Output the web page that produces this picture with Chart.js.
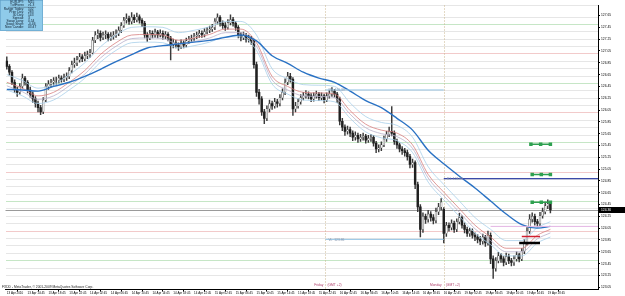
<!DOCTYPE html>
<html>
<head>
<meta charset="utf-8">
<script src="https://cdn.jsdelivr.net/npm/chart.js@4.4.1/dist/chart.umd.min.js"></script>
<style>html,body{margin:0;padding:0;background:#fff}canvas{display:block}</style>
</head>
<body>
<canvas id="c" width="625" height="296"></canvas>
<script>
// EURJPY candles, one entry per bar (bar index = position on the time axis)
var opens = [126.88,126.79,126.69,126.52,126.40,126.35,126.45,126.59,126.52,126.39,
126.32,126.24,126.16,126.09,126.02,126.22,126.45,126.49,126.52,126.55,
126.55,126.59,126.57,126.60,126.62,126.72,126.82,126.85,126.90,126.95,
126.92,126.97,126.99,127.02,127.23,127.32,127.35,127.28,127.32,127.33,
127.27,127.30,127.32,127.35,127.40,127.48,127.57,127.60,127.55,127.62,
127.58,127.63,127.57,127.52,127.32,127.27,127.35,127.32,127.37,127.32,
127.35,127.30,127.33,127.27,127.15,127.19,127.15,127.12,127.19,127.15,
127.22,127.25,127.27,127.30,127.32,127.35,127.33,127.38,127.40,127.42,
127.45,127.55,127.62,127.52,127.48,127.45,127.53,127.58,127.52,127.45,
127.32,127.28,127.32,127.25,127.27,127.22,126.82,126.35,126.24,126.02,
125.91,126.07,126.16,126.12,126.19,126.16,126.26,126.35,126.52,126.62,
126.57,126.07,126.12,126.19,126.26,126.29,126.32,126.29,126.24,126.29,
126.32,126.26,126.29,126.22,126.29,126.32,126.37,126.32,126.24,125.86,
125.76,125.69,125.72,125.66,125.59,125.62,125.56,125.59,125.61,125.54,
125.57,125.59,125.49,125.39,125.41,125.46,125.56,125.64,125.69,125.66,
125.52,125.46,125.39,125.36,125.33,125.26,125.13,125.16,124.79,124.41,
124.03,124.25,124.20,124.29,124.23,124.18,124.33,124.41,124.37,123.96,
124.10,124.06,124.13,124.03,124.16,124.23,124.10,124.03,123.96,124.00,
123.93,123.90,123.86,123.83,123.90,123.80,123.93,123.53,123.37,123.50,
123.58,123.53,123.47,123.57,123.50,123.47,123.53,123.60,123.53,123.66,
123.80,124.00,124.20,124.25,124.16,124.13,124.26,124.33,124.43,124.46];
var highs = [126.95,126.82,126.72,126.56,126.44,126.50,126.66,126.62,126.55,126.44,
126.36,126.28,126.20,126.13,126.26,126.50,126.55,126.57,126.60,126.61,
126.64,126.63,126.66,126.68,126.77,126.88,126.93,126.96,127.01,126.99,
127.03,127.05,127.08,127.28,127.38,127.41,127.39,127.37,127.39,127.36,
127.36,127.38,127.41,127.46,127.53,127.62,127.68,127.64,127.70,127.66,
127.69,127.66,127.60,127.55,127.36,127.40,127.39,127.42,127.40,127.41,
127.39,127.38,127.36,127.30,127.25,127.23,127.19,127.24,127.22,127.27,
127.30,127.32,127.35,127.37,127.40,127.39,127.43,127.45,127.47,127.50,
127.60,127.68,127.65,127.56,127.53,127.58,127.66,127.62,127.55,127.48,
127.36,127.37,127.35,127.32,127.30,127.25,126.86,126.40,126.28,126.06,
126.12,126.22,126.20,126.25,126.23,126.31,126.41,126.58,126.69,126.67,
126.60,126.18,126.24,126.31,126.35,126.38,126.36,126.33,126.34,126.37,
126.35,126.34,126.32,126.34,126.38,126.43,126.40,126.35,126.27,125.91,
125.80,125.78,125.76,125.70,125.68,125.66,125.64,125.66,125.64,125.62,
125.64,125.62,125.52,125.46,125.51,125.61,125.69,125.76,126.11,125.70,
125.56,125.49,125.43,125.40,125.37,125.30,125.22,125.19,124.83,124.45,
124.31,124.29,124.35,124.33,124.28,124.39,124.47,124.55,124.40,124.15,
124.14,124.19,124.17,124.21,124.30,124.26,124.14,124.07,124.05,124.04,
123.97,123.94,123.91,123.95,123.93,124.00,123.97,123.58,123.55,123.64,
123.62,123.57,123.63,123.61,123.54,123.58,123.65,123.63,123.71,123.86,
124.06,124.28,124.31,124.29,124.20,124.32,124.39,124.49,124.53,124.49];
var lows = [126.74,126.64,126.48,126.35,126.28,126.32,126.42,126.47,126.34,126.27,
126.18,126.10,126.02,125.97,125.99,126.19,126.40,126.44,126.47,126.49,
126.51,126.52,126.53,126.55,126.58,126.68,126.77,126.80,126.86,126.87,
126.88,126.92,126.94,127.00,127.19,127.26,127.22,127.24,127.26,127.22,
127.23,127.25,127.28,127.31,127.36,127.45,127.52,127.50,127.51,127.53,
127.54,127.52,127.46,127.27,127.21,127.24,127.27,127.28,127.27,127.29,
127.25,127.26,127.22,126.90,127.10,127.10,127.06,127.09,127.10,127.12,
127.18,127.21,127.23,127.26,127.28,127.28,127.29,127.34,127.36,127.38,
127.41,127.51,127.47,127.43,127.40,127.42,127.49,127.47,127.40,127.27,
127.22,127.24,127.20,127.20,127.16,126.76,126.28,126.15,125.96,125.82,
125.87,126.02,126.06,126.08,126.10,126.12,126.22,126.31,126.48,126.52,
125.96,126.02,126.08,126.15,126.22,126.25,126.24,126.19,126.20,126.25,
126.21,126.22,126.17,126.19,126.25,126.28,126.27,126.18,125.80,125.70,
125.62,125.64,125.60,125.53,125.54,125.50,125.52,125.54,125.49,125.50,
125.52,125.44,125.33,125.34,125.36,125.43,125.52,125.60,125.61,125.47,
125.40,125.34,125.30,125.27,125.20,125.07,125.08,124.72,124.33,123.90,
123.98,124.13,124.15,124.17,124.12,124.14,124.28,124.36,123.80,123.91,
124.00,124.02,123.98,123.99,124.12,124.05,123.97,123.91,123.91,123.88,
123.84,123.80,123.77,123.78,123.74,123.76,123.45,123.20,123.32,123.46,
123.47,123.41,123.43,123.45,123.41,123.42,123.49,123.48,123.50,123.62,
123.76,123.96,124.15,124.10,124.07,124.09,124.22,124.29,124.38,124.31];
var closes = [126.79,126.69,126.52,126.40,126.35,126.45,126.59,126.52,126.39,126.32,
126.24,126.16,126.09,126.02,126.22,126.45,126.49,126.52,126.55,126.55,
126.59,126.57,126.60,126.62,126.72,126.82,126.85,126.90,126.95,126.92,
126.97,126.99,127.02,127.23,127.32,127.35,127.28,127.32,127.33,127.27,
127.30,127.32,127.35,127.40,127.48,127.57,127.60,127.55,127.62,127.58,
127.63,127.57,127.52,127.32,127.27,127.35,127.32,127.37,127.32,127.35,
127.30,127.33,127.27,127.15,127.19,127.15,127.12,127.19,127.15,127.22,
127.25,127.27,127.30,127.32,127.35,127.33,127.38,127.40,127.42,127.45,
127.55,127.62,127.52,127.48,127.45,127.53,127.58,127.52,127.45,127.32,
127.28,127.32,127.25,127.27,127.22,126.82,126.35,126.24,126.02,125.91,
126.07,126.16,126.12,126.19,126.16,126.26,126.35,126.52,126.62,126.57,
126.07,126.12,126.19,126.26,126.29,126.32,126.29,126.24,126.29,126.32,
126.26,126.29,126.22,126.29,126.32,126.37,126.32,126.24,125.86,125.76,
125.69,125.72,125.66,125.59,125.62,125.56,125.59,125.61,125.54,125.57,
125.59,125.49,125.39,125.41,125.46,125.56,125.64,125.69,125.66,125.52,
125.46,125.39,125.36,125.33,125.26,125.13,125.16,124.79,124.41,124.03,
124.25,124.20,124.29,124.23,124.18,124.33,124.41,124.49,123.96,124.10,
124.06,124.13,124.03,124.16,124.23,124.10,124.03,123.96,124.00,123.93,
123.90,123.86,123.83,123.90,123.80,123.93,123.53,123.37,123.50,123.58,
123.53,123.47,123.57,123.50,123.47,123.53,123.60,123.53,123.66,123.80,
124.00,124.20,124.25,124.16,124.13,124.26,124.33,124.43,124.46,124.36];

// moving averages, read every 6th bar
var maBars  = [0,6,12,18,24,30,36,42,48,54,60,66,72,78,84,90,96,102,108,114,120,126,132,138,144,150,156,162,168,174,180,186,192,198,204,209];
var slowMA  = [126.40,126.39,126.37,126.45,126.52,126.62,126.74,126.87,126.99,127.10,127.14,127.17,127.20,127.23,127.28,127.32,127.22,126.97,126.84,126.69,126.59,126.52,126.37,126.21,126.09,125.91,125.71,125.37,125.14,124.93,124.73,124.51,124.29,124.11,124.05,124.08];
var bandUp  = [126.65,126.55,126.42,126.48,126.65,126.85,127.12,127.32,127.45,127.46,127.45,127.36,127.40,127.46,127.55,127.55,127.32,126.75,126.58,126.48,126.47,126.45,126.17,125.94,125.84,125.79,125.59,125.09,124.79,124.51,124.23,124.03,123.84,123.84,124.06,124.16];
var bandMid = [126.52,126.42,126.29,126.35,126.52,126.72,126.99,127.19,127.32,127.33,127.32,127.23,127.27,127.33,127.42,127.42,127.19,126.62,126.45,126.35,126.34,126.32,126.04,125.81,125.71,125.66,125.46,124.96,124.66,124.38,124.10,123.90,123.71,123.71,123.93,124.03];
var bandIn  = [126.46,126.36,126.23,126.29,126.46,126.66,126.93,127.13,127.26,127.27,127.26,127.17,127.21,127.27,127.36,127.36,127.13,126.56,126.39,126.29,126.28,126.26,125.98,125.75,125.65,125.60,125.40,124.90,124.60,124.32,124.04,123.84,123.65,123.65,123.87,123.97];
var bandLow = [126.39,126.29,126.16,126.22,126.39,126.59,126.86,127.06,127.19,127.20,127.19,127.10,127.14,127.20,127.29,127.29,127.06,126.49,126.32,126.22,126.21,126.19,125.91,125.68,125.58,125.53,125.33,124.83,124.53,124.25,123.97,123.77,123.58,123.58,123.80,123.90];

// pivot lines and target markers
var pivotLevels = [126.39, 123.86, 124.89, 124.08];
var pivotFrom   = [122.5, 122.5, 168, 186];
var pivotTo     = [168, 168, 227.3, 227.3];
var pivotText   = ['PP  126.39', 'VL  123.86', 'R1  124.89', ''];
var markLevels  = [125.47, 124.96, 124.49, 123.91, 123.80];
var markFrom    = [201.5, 202, 202, 198, 197];
var markTo      = [209, 209, 209, 205, 205];

var timeLabels = ['13 Apr 2010','13 Apr 14:45','13 Apr 18:45','13 Apr 22:45','14 Apr 02:45','14 Apr 06:45','14 Apr 10:45','14 Apr 14:45','14 Apr 18:45','14 Apr 22:45','15 Apr 02:45','15 Apr 06:45','15 Apr 10:45','15 Apr 14:45','15 Apr 18:45','15 Apr 22:45','16 Apr 02:45','16 Apr 06:45','16 Apr 10:45','16 Apr 14:45','16 Apr 18:45','16 Apr 22:45','19 Apr 02:45','19 Apr 06:45','19 Apr 10:45','19 Apr 14:45','19 Apr 18:45'];
var barsPerLabel = 8;
var priceTicks = [127.65,127.45,127.25,127.05,126.85,126.65,126.45,126.25,126.05,125.85,125.65,125.45,125.25,125.05,124.85,124.65,124.45,124.25,124.05,123.85,123.65,123.45,123.25,123.05];
var sepBars = [122.5, 168];
var sepNames = ['Friday', 'Monday'];
var lastPrice = 124.36;
var infoKeys = ['EURJPY:', 'TuffForex', 'Range Today:', 'Prior Day:', '30 Day:', 'Spread:', 'Swap Long:', 'Swap Short:', 'New Candle:'];
var infoVals = ['M15', 'v1.3', '102', '283', '143', '3', '0.54', '-0.46', '03:47'];

var yMin = 123.02, yMax = 127.82;
var FONT = 'Liberation Sans';

function candle(i, a, b) { return {x: i, y: [a, b]}; }
var wickData = closes.map(function(c, i){ return candle(i, lows[i], highs[i]); });
var bodyData = closes.map(function(c, i){ return candle(i, opens[i], c); });
function maLine(arr) { return maBars.map(function(b, k){ return {x: b, y: arr[k]}; }); }
function lineDs(data, color, width, order) {
  return {type: 'line', data: data, borderColor: color, borderWidth: width, pointRadius: 0,
    cubicInterpolationMode: 'monotone', order: order};
}

var datasets = [
  {type: 'bar', data: wickData, barThickness: 0.8, grouped: false, order: 6, backgroundColor: '#3a3a3a'},
  {type: 'bar', data: bodyData, barThickness: 1.8, grouped: false, order: 5,
   backgroundColor: function(c){ return closes[c.dataIndex] >= opens[c.dataIndex] ? '#f4f4f4' : '#202020'; },
   borderColor: '#3a3a3a', borderWidth: function(c){ return closes[c.dataIndex] >= opens[c.dataIndex] ? 0.5 : 0; }},
  lineDs(maLine(bandUp), '#a8cfea', 0.8, 4),
  lineDs(maLine(bandLow), '#a8cfea', 0.8, 4),
  lineDs(maLine(bandIn), '#b8b0cc', 0.8, 4),
  lineDs(maLine(bandMid), '#d88080', 0.8, 4),
  lineDs(maLine(slowMA), '#2a72c4', 1.4, 3)
];
var pivotColors = ['#94c4e4', '#94c4e4', '#3c4aa8', '#e4b4e4'];
pivotLevels.forEach(function(v, k){
  datasets.push({type: 'line', data: [{x: pivotFrom[k], y: v}, {x: pivotTo[k], y: v}],
    borderColor: pivotColors[k], borderWidth: k === 2 ? 1.3 : 1, pointRadius: 0, order: 2});
});
var markColors = ['#2ea050', '#2ea050', '#2ea050', '#d02030', '#000000'];
markLevels.forEach(function(v, k){
  var mid = (markFrom[k] + markTo[k]) / 2;
  datasets.push({type: 'line', data: [{x: markFrom[k], y: v}, {x: mid, y: v}, {x: markTo[k], y: v}],
    borderColor: markColors[k], backgroundColor: markColors[k], borderWidth: k === 4 ? 2.5 : 1.5,
    pointRadius: k < 3 ? 1.4 : 0, pointStyle: 'rect', order: 1});
});

var overlay = {
  id: 'overlay',
  beforeDatasetsDraw: function(chart) {
    var ctx = chart.ctx, a = chart.chartArea, x = chart.scales.x, y = chart.scales.y;
    ctx.save();
    ctx.strokeStyle = '#c8b48c'; ctx.lineWidth = 1; ctx.setLineDash([1, 2]);
    sepBars.forEach(function(b){
      var px = Math.round(x.getPixelForValue(b)) + 0.5;
      ctx.beginPath(); ctx.moveTo(px, a.top); ctx.lineTo(px, a.bottom); ctx.stroke();
    });
    ctx.setLineDash([]);
    var py = Math.round(y.getPixelForValue(lastPrice)) + 0.5;
    ctx.strokeStyle = '#9a9a9a';
    ctx.beginPath(); ctx.moveTo(a.left, py); ctx.lineTo(a.right, py); ctx.stroke();
    ctx.restore();
  },
  afterDraw: function(chart) {
    var ctx = chart.ctx, a = chart.chartArea, x = chart.scales.x, y = chart.scales.y;
    ctx.save();
    ctx.font = '3.3px "' + FONT + '"';
    ctx.textBaseline = 'alphabetic';
    // pivot captions
    ctx.fillStyle = '#8a9ab0';
    pivotText.forEach(function(t, k){
      if (!t) return;
      ctx.fillText(t, x.getPixelForValue(pivotFrom[k]) + 3, y.getPixelForValue(pivotLevels[k]) + 1.5);
    });
    // day separators
    ctx.fillStyle = '#b0406c';
    sepBars.forEach(function(b, k){
      var px = x.getPixelForValue(b);
      ctx.textAlign = 'right'; ctx.fillText(sepNames[k], px - 2, a.bottom - 3);
      ctx.textAlign = 'left'; ctx.fillText('(GMT +2)', px + 2, a.bottom - 3);
    });
    // copyright
    ctx.fillStyle = '#202020'; ctx.textAlign = 'left';
    ctx.fillText('FXDD - MetaTrader, \u00a9 2001-2009 MetaQuotes Software Corp.', 2, a.bottom - 1.5);
    // info box
    ctx.fillStyle = '#8fcbea'; ctx.fillRect(0, 0, 43, 31);
    ctx.strokeStyle = '#5f9fc6'; ctx.lineWidth = 0.6; ctx.strokeRect(0.3, 0.3, 42.4, 30.4);
    ctx.fillStyle = '#102030';
    infoKeys.forEach(function(k, n){
      var ty = 3.4 + n * 3.05;
      ctx.textAlign = 'right'; ctx.fillText(k, 24, ty);
      ctx.textAlign = 'left'; ctx.fillText(infoVals[n], 28, ty);
    });
    ctx.strokeStyle = '#304050'; ctx.lineWidth = 0.4;
    ctx.beginPath(); ctx.moveTo(8, 7.3); ctx.lineTo(36, 7.3); ctx.stroke();
    // last price tag
    var py = Math.round(y.getPixelForValue(lastPrice));
    ctx.fillStyle = '#000'; ctx.fillRect(a.right + 1, py - 3, 625 - a.right - 1, 6);
    ctx.fillStyle = '#fff'; ctx.textAlign = 'left';
    ctx.fillText(lastPrice.toFixed(2), a.right + 3, py + 1.3);
    ctx.restore();
  }
};

new Chart(document.getElementById('c'), {
  type: 'bar',
  data: {datasets: datasets},
  plugins: [overlay],
  options: {
    responsive: false,
    animation: false,
    events: [],
    layout: {padding: 0},
    plugins: {legend: {display: false}, tooltip: {enabled: false}},
    scales: {
      x: {
        type: 'linear', min: -0.5, max: 227.3, offset: false,
        afterFit: function(s){ s.height = 7; },
        afterBuildTicks: function(s){ s.ticks = timeLabels.map(function(t, k){ return {value: k * barsPerLabel}; }); },
        ticks: {autoSkip: false, maxRotation: 0, align: 'start', padding: 0, color: '#000',
          font: {family: FONT, size: 3}, 
          callback: function(v){ return timeLabels[Math.round(v / barsPerLabel)]; }},
        grid: {drawOnChartArea: false, drawTicks: true, tickLength: 2.5, color: '#000'},
        border: {color: '#000'}
      },
      y: {
        type: 'linear', position: 'right', min: yMin, max: yMax,
        afterFit: function(s){ s.width = 27; },
        afterBuildTicks: function(s){ s.ticks = priceTicks.map(function(v){ return {value: v}; }); },
        ticks: {autoSkip: false, padding: 1, color: '#000', font: {family: FONT, size: 3.3},
          callback: function(v){ return v.toFixed(2); }},
        grid: {drawOnChartArea: false, drawTicks: true, tickLength: 2, color: '#000'},
        border: {color: '#000'}
      },
      g: {
        type: 'linear', position: 'left', min: yMin, max: yMax,
        afterFit: function(s){ s.width = 0; },
        ticks: {display: false, stepSize: 0.125, maxTicksLimit: 100, autoSkip: false},
        border: {display: false},
        grid: {drawTicks: false, lineWidth: 1, color: function(c){
          var v = Math.round(c.tick.value * 1000);
          if (v % 1000 === 0) return '#f2caca';
          if (v % 500 === 0) return '#c6e6c6';
          return '#e6e6e6';
        }}
      }
    }
  }
});
</script>
</body>
</html>
